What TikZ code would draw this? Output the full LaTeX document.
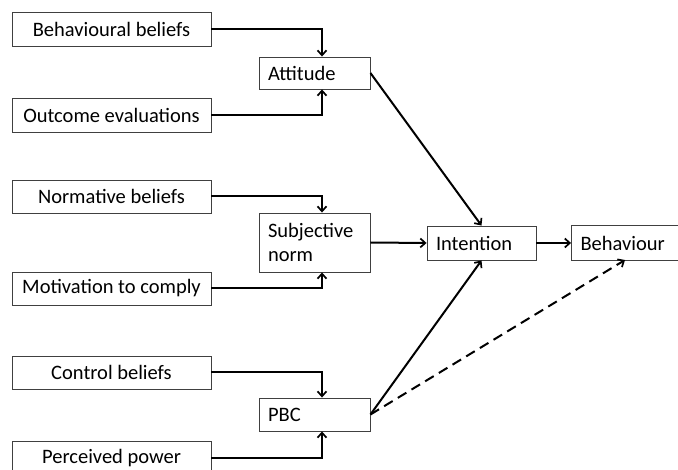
\documentclass[tikz,border=0pt]{standalone}
\usepackage{fontspec}
\setmainfont{Carlito}
\usetikzlibrary{arrows.meta}
\begin{document}
\begin{tikzpicture}[x=1pt,y=-1pt,
  box/.style={draw=black!75, line width=0.9pt, inner ysep=0pt, font=\fontsize{20.5}{24}\selectfont},
  lbox/.style={box, minimum width=199pt, minimum height=34pt, inner xsep=0pt},
  mbox/.style={box, text width=#1, align=left, inner xsep=9pt},
  edge/.style={draw=black!75, line width=0.9pt},
  conn/.style={line width=2pt, -{Straight Barb[length=5pt,width=9pt,line width=1.7pt]}}
]
\useasboundingbox (0,0) rectangle (678,470);
\clip (0,0) rectangle (678,470);
% left boxes
\node[lbox] (bb) at (111.5,29) {Behavioural beliefs};
\node[lbox] (oe) at (111.5,115) {Outcome evaluations};
\node[lbox, minimum height=33pt] (nb) at (111.5,196.5) {Normative beliefs};
\node[lbox, minimum height=33pt] (mc) at (111.5,288.5) {Motivation to comply};
\node[lbox, minimum height=33pt] (cb) at (111.5,372.5) {Control beliefs};
\node[lbox] (pp) at (111.5,458) {Perceived power};
% middle boxes
\node[mbox=93pt, minimum height=32pt] (att) at (314.5,73) {Attitude};
\node[mbox=93pt, minimum height=59pt] (sn) at (314.5,242.5) {Subjective\\norm};
\node[mbox=93pt, minimum height=33pt] (pbc) at (314.5,414.5) {PBC};
% right boxes
\node[mbox=91pt, minimum height=34pt] (int) at (481.5,243) {Intention};
\node[mbox=122pt, minimum height=34pt, draw=none] (beh) at (641.5,243) {Behaviour};
\draw[edge] (beh.north east) -- (beh.north west) -- (beh.south west) -- (beh.south east);
\coordinate (behin) at (625,260);
% connectors
\draw[conn] (bb.east) -| ([xshift=7.5pt]att.north);
\draw[conn] (oe.east) -| ([xshift=7.5pt]att.south);
\draw[conn] (nb.east) -| ([xshift=7.5pt]sn.north);
\draw[conn] (mc.east) -| ([xshift=7.5pt]sn.south);
\draw[conn] (cb.east) -| ([xshift=7.5pt]pbc.north);
\draw[conn] (pp.east) -| ([xshift=7.5pt]pbc.south);
\draw[conn] (att.east) -- (int.north);
\draw[conn] (sn.east) -- (int.west);
\draw[conn] (pbc.east) -- (int.south);
\draw[conn] (int.east) -- (beh.west);
\draw[conn, dash pattern=on 10pt off 6pt] (pbc.east) -- (behin);
\end{tikzpicture}
\end{document}
